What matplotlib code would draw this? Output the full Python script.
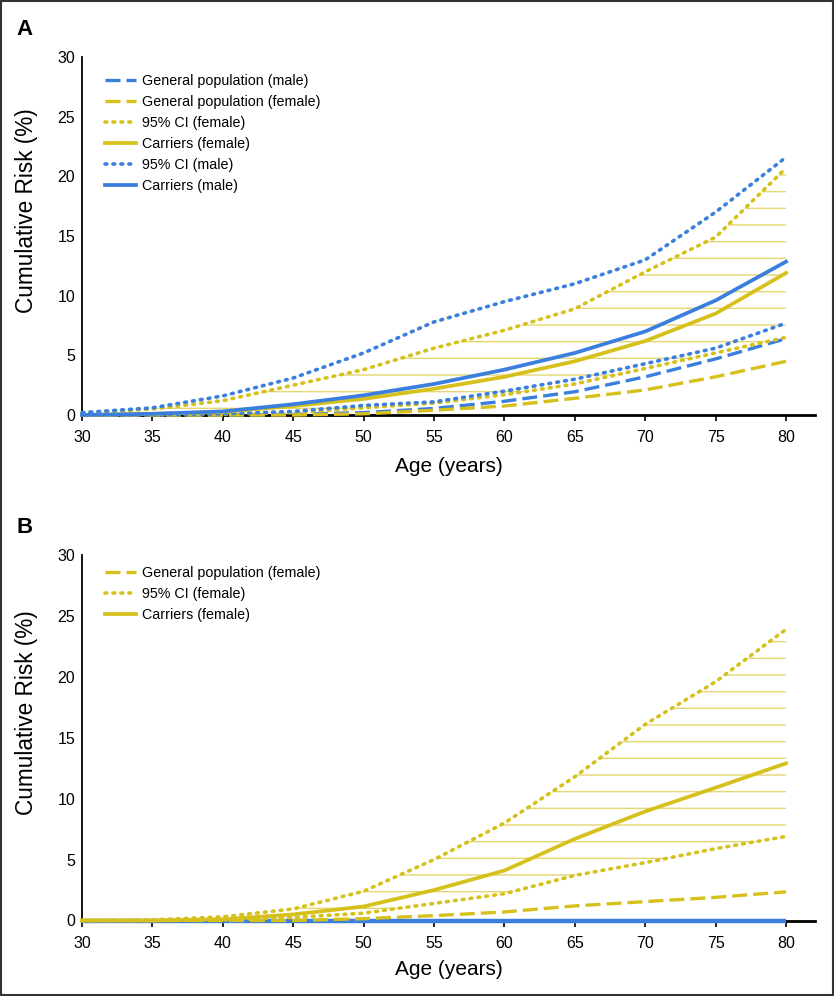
import matplotlib
matplotlib.use("Agg")
import matplotlib.pyplot as plt
from matplotlib.patches import Rectangle

plt.rcParams['font.family'] = ['Liberation Sans', 'DejaVu Sans']

ages = [30, 35, 40, 45, 50, 55, 60, 65, 70, 75, 80]
x_ticks = [30, 35, 40, 45, 50, 55, 60, 65, 70, 75, 80]
y_ticks = [0, 5, 10, 15, 20, 25, 30]

# Panel A
a_gen_male = [0, 0, 0, 0.05, 0.2, 0.55, 1.15, 1.95, 3.2, 4.7, 6.4]
a_gen_female = [0, 0, 0, 0, 0.1, 0.4, 0.75, 1.4, 2.1, 3.2, 4.5]
a_ci_female_lo = [0, 0, 0.05, 0.2, 0.6, 1.0, 1.7, 2.6, 3.9, 5.2, 6.5]
a_ci_female_hi = [0.15, 0.5, 1.2, 2.5, 3.8, 5.6, 7.1, 8.9, 12.0, 14.9, 20.7]
a_car_female = [0, 0.1, 0.25, 0.75, 1.35, 2.2, 3.2, 4.5, 6.2, 8.5, 11.9]
a_ci_male_lo = [0, 0, 0.1, 0.3, 0.8, 1.1, 2.0, 3.0, 4.3, 5.6, 7.7]
a_ci_male_hi = [0.2, 0.6, 1.6, 3.1, 5.2, 7.8, 9.5, 11.0, 13.0, 17.0, 21.6]
a_car_male = [0, 0.1, 0.3, 0.9, 1.65, 2.6, 3.8, 5.2, 7.0, 9.6, 12.85]

# Panel B
b_gen_female = [0, 0, 0, 0, 0.15, 0.4, 0.7, 1.2, 1.55, 1.9, 2.35]
b_ci_female_lo = [0, 0, 0.05, 0.25, 0.6, 1.4, 2.2, 3.7, 4.75, 5.9, 6.9]
b_ci_female_hi = [0, 0.05, 0.3, 0.95, 2.4, 5.0, 8.0, 11.8, 16.1, 19.6, 23.9]
b_car_female = [0, 0, 0.1, 0.5, 1.15, 2.5, 4.1, 6.7, 8.95, 10.9, 12.9]
b_male_zero = [0, 0, 0, 0, 0, 0, 0, 0, 0, 0, 0]

BLUE = '#3b7fde'
YELLOW = '#d6c11c'
HATCH = '#e6d672'

LW = 2.4
DASH = (0, (4.5, 1.8))
DOT = (0, (0.5, 1.7))

fig = plt.figure(figsize=(8.34, 9.96), dpi=100)
W, H = 834, 996

def make_ax(top_px, bottom_px):
    left = 82 / W
    right = 815 / W
    return fig.add_axes([left, 1 - bottom_px / H, right - left, (bottom_px - top_px) / H])

def style(ax):
    ax.set_xlim(30, 30 + (815 - 82) / ((786 - 82) / 50))
    ax.set_ylim(0, 30)
    ax.set_xticks(x_ticks)
    ax.set_yticks(y_ticks)
    for s in ['top', 'right']:
        ax.spines[s].set_visible(False)
    ax.spines['left'].set_linewidth(1.3)
    ax.spines['bottom'].set_linewidth(2.0)
    ax.spines['bottom'].set_zorder(1)
    ax.tick_params(axis='x', length=4, width=1.2, pad=7, labelsize=11.5)
    ax.tick_params(axis='y', length=0, pad=5, labelsize=11.5)
    ax.set_xlabel('Age (years)', fontsize=15, va='center')
    ax.xaxis.set_label_coords(0.5, -51 / 358)
    ax.set_ylabel('Cumulative Risk (%)', fontsize=16.3, va='center')
    ax.yaxis.set_label_coords(-55 / 733, 0.57)

def legend(ax, handles, y):
    ax.legend(handles=handles, loc='upper left', bbox_to_anchor=(0.031, y),
              frameon=False, fontsize=10.3, handlelength=2.2, handletextpad=0.4,
              labelspacing=0.49, borderpad=0, borderaxespad=0)

dot_kw = dict(lw=2.6, linestyle=DOT, dash_capstyle='round', clip_on=False, zorder=4)
dash_kw = dict(lw=LW, linestyle=DASH, clip_on=False, zorder=4)

# ---------- Panel A ----------
axA = make_ax(57, 415)
style(axA)
axA.fill_between(ages, a_ci_female_lo, a_ci_female_hi, facecolor='none',
                 edgecolor=HATCH, hatch='-', linewidth=0, zorder=2)
gm, = axA.plot(ages, a_gen_male, color=BLUE, label='General population (male)', **dash_kw)
gf, = axA.plot(ages, a_gen_female, color=YELLOW, label='General population (female)', **dash_kw)
axA.plot(ages, a_ci_female_lo, color=YELLOW, **dot_kw)
cf, = axA.plot(ages, a_ci_female_hi, color=YELLOW, label='95% CI (female)', **dot_kw)
kf, = axA.plot(ages, a_car_female, color=YELLOW, lw=LW + 0.3,
               label='Carriers (female)', clip_on=False, zorder=5)
axA.plot(ages, a_ci_male_lo, color=BLUE, **dot_kw)
cm, = axA.plot(ages, a_ci_male_hi, color=BLUE, label='95% CI (male)', **dot_kw)
km, = axA.plot(ages, a_car_male, color=BLUE, lw=LW + 0.3,
               label='Carriers (male)', clip_on=False, zorder=6)
legend(axA, [gm, gf, cf, kf, cm, km], 0.952)

# ---------- Panel B ----------
axB = make_ax(555, 920.5)
style(axB)
axB.xaxis.set_label_coords(0.5, -48.5 / 365.5)
axB.fill_between(ages, b_ci_female_lo, b_ci_female_hi, facecolor='none',
                 edgecolor=HATCH, hatch='-', linewidth=0, zorder=2)
axB.plot(ages, b_male_zero, color=BLUE, lw=3.2, clip_on=False, zorder=3,
         solid_capstyle='butt')
gB, = axB.plot(ages, b_gen_female, color=YELLOW, label='General population (female)', **dash_kw)
axB.plot(ages, b_ci_female_lo, color=YELLOW, **dot_kw)
cB, = axB.plot(ages, b_ci_female_hi, color=YELLOW, label='95% CI (female)', **dot_kw)
kB, = axB.plot(ages, b_car_female, color=YELLOW, lw=LW + 0.3,
               label='Carriers (female)', clip_on=False, zorder=5)
legend(axB, [gB, cB, kB], 0.971)

# Panel letters
fig.text(16 / W, 1 - 35 / H, 'A', fontsize=16, fontweight='bold', va='baseline', ha='left')
fig.text(16 / W, 1 - 533 / H, 'B', fontsize=16, fontweight='bold', va='baseline', ha='left')

# Border
fig.patches.append(Rectangle((0.001, 0.001), 0.998, 0.998, transform=fig.transFigure,
                             fill=False, edgecolor='#333333', linewidth=1.5))

fig.savefig('out.png', dpi=100)
